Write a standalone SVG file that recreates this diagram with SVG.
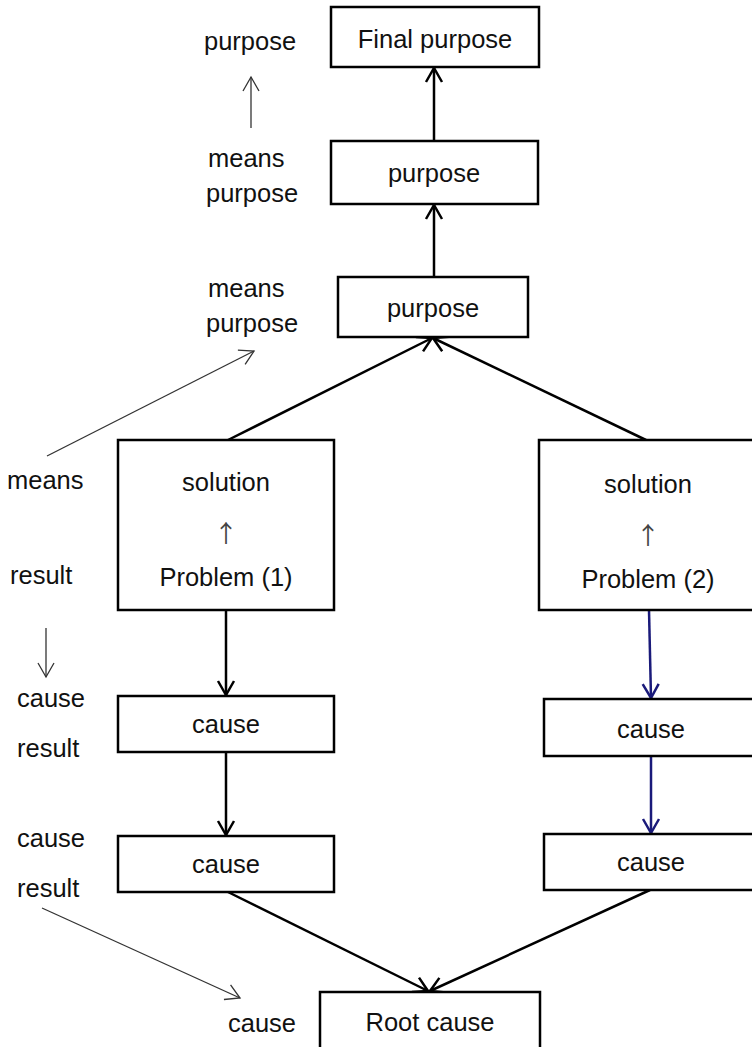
<svg xmlns="http://www.w3.org/2000/svg" width="752" height="1047" viewBox="0 0 752 1047">
  <style>
    .box { fill: #fff; stroke: #000; stroke-width: 2.5; }
    .lbl { font-family: "Liberation Sans", Arial, sans-serif; font-size: 25.5px; fill: #111; text-anchor: middle; }
    .side { font-family: "Liberation Sans", Arial, sans-serif; font-size: 25.5px; fill: #111; }
    .up { font-family: "Noto Sans CJK JP", "DejaVu Sans", sans-serif; font-size: 24px; fill: #444; text-anchor: middle; }
    .edge { fill: none; stroke: #000; stroke-width: 2.5; }
    .blue { fill: none; stroke: #1a1a7a; stroke-width: 2.5; }
    .thin { fill: none; stroke: #333; stroke-width: 1.3; }
  </style>
  <defs>
    <marker id="ah" viewBox="0 0 20 20" refX="18" refY="10" markerWidth="20" markerHeight="20" markerUnits="userSpaceOnUse" orient="auto">
      <path d="M4,2 L18,10 L4,18" fill="none" stroke="#000" stroke-width="2.5"/>
    </marker>
    <marker id="ahb" viewBox="0 0 20 20" refX="18" refY="10" markerWidth="20" markerHeight="20" markerUnits="userSpaceOnUse" orient="auto">
      <path d="M4,2 L18,10 L4,18" fill="none" stroke="#1a1a7a" stroke-width="2.5"/>
    </marker>
    <marker id="aht" viewBox="0 0 20 20" refX="18" refY="10" markerWidth="20" markerHeight="20" markerUnits="userSpaceOnUse" orient="auto">
      <path d="M4,2 L18,10 L4,18" fill="none" stroke="#333" stroke-width="1.3"/>
    </marker>
  </defs>

  <!-- connectors -->
  <g id="connectors">
    <line class="edge" x1="434" y1="141" x2="434" y2="68" marker-end="url(#ah)"/>
    <line class="edge" x1="434" y1="277" x2="434" y2="205" marker-end="url(#ah)"/>
    <line class="edge" x1="228" y1="440" x2="432" y2="338" marker-end="url(#ah)"/>
    <line class="edge" x1="646" y1="440" x2="433" y2="338" marker-end="url(#ah)"/>
    <line class="edge" x1="226" y1="610" x2="226" y2="695" marker-end="url(#ah)"/>
    <line class="edge" x1="226" y1="752" x2="226" y2="835" marker-end="url(#ah)"/>
    <line class="blue" x1="649" y1="610" x2="651" y2="698" marker-end="url(#ahb)"/>
    <line class="blue" x1="651" y1="756" x2="651" y2="833" marker-end="url(#ahb)"/>
    <line class="edge" x1="228" y1="892" x2="428" y2="991" marker-end="url(#ah)"/>
    <line class="edge" x1="650" y1="890" x2="430" y2="991" marker-end="url(#ah)"/>
    <!-- side reading arrows -->
    <line class="thin" x1="251" y1="128" x2="251" y2="77" marker-end="url(#aht)"/>
    <line class="thin" x1="47" y1="456" x2="254" y2="351" marker-end="url(#aht)"/>
    <line class="thin" x1="46" y1="628" x2="46" y2="677" marker-end="url(#aht)"/>
    <line class="thin" x1="42" y1="908" x2="240" y2="998" marker-end="url(#aht)"/>
  </g>

  <!-- nodes -->
  <g id="final-purpose">
    <rect class="box" x="331" y="7" width="208" height="60"/>
    <text class="lbl" x="435" y="48">Final purpose</text>
  </g>
  <g id="purpose-2">
    <rect class="box" x="331" y="141" width="207" height="63"/>
    <text class="lbl" x="434" y="182">purpose</text>
  </g>
  <g id="purpose-1">
    <rect class="box" x="338" y="277" width="190" height="60"/>
    <text class="lbl" x="433" y="317">purpose</text>
  </g>
  <g id="problem-1">
    <rect class="box" x="118" y="440" width="216" height="170"/>
    <text class="lbl" x="226" y="491">solution</text>
    <text class="up" x="226" y="542">↑</text>
    <text class="lbl" x="226" y="586">Problem (1)</text>
  </g>
  <g id="problem-2">
    <rect class="box" x="539" y="440" width="220" height="170"/>
    <text class="lbl" x="648" y="493">solution</text>
    <text class="up" x="648" y="544">↑</text>
    <text class="lbl" x="648" y="588">Problem (2)</text>
  </g>
  <g id="cause-l1">
    <rect class="box" x="118" y="696" width="216" height="56"/>
    <text class="lbl" x="226" y="733">cause</text>
  </g>
  <g id="cause-l2">
    <rect class="box" x="118" y="836" width="216" height="56"/>
    <text class="lbl" x="226" y="873">cause</text>
  </g>
  <g id="cause-r1">
    <rect class="box" x="544" y="699" width="215" height="57"/>
    <text class="lbl" x="651" y="738">cause</text>
  </g>
  <g id="cause-r2">
    <rect class="box" x="544" y="834" width="215" height="56"/>
    <text class="lbl" x="651" y="871">cause</text>
  </g>
  <g id="root-cause">
    <rect class="box" x="320" y="992" width="220" height="60"/>
    <text class="lbl" x="430" y="1031">Root cause</text>
  </g>

  <!-- side labels -->
  <g id="side-labels">
    <text class="side" x="204" y="50">purpose</text>
    <text class="side" x="208" y="167">means</text>
    <text class="side" x="206" y="202">purpose</text>
    <text class="side" x="208" y="297">means</text>
    <text class="side" x="206" y="332">purpose</text>
    <text class="side" x="7" y="489">means</text>
    <text class="side" x="10" y="584">result</text>
    <text class="side" x="17" y="707">cause</text>
    <text class="side" x="17" y="757">result</text>
    <text class="side" x="17" y="847">cause</text>
    <text class="side" x="17" y="897">result</text>
    <text class="side" x="228" y="1032">cause</text>
  </g>
</svg>
